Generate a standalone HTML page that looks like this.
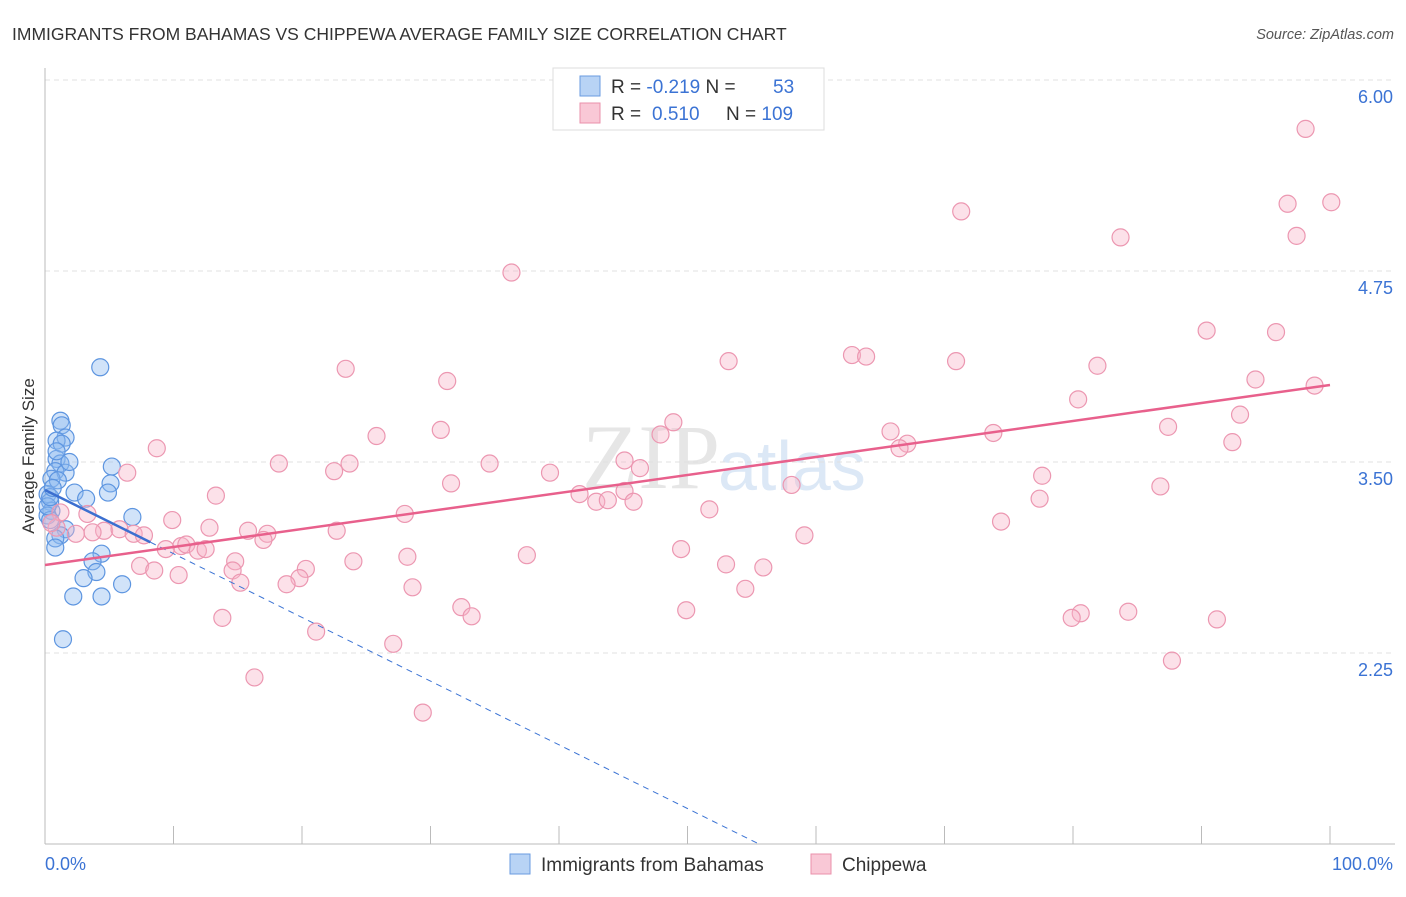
<!DOCTYPE html>
<html><head><meta charset="utf-8"><style>
body{margin:0;background:#fff;font-family:"Liberation Sans",sans-serif}
</style></head><body>
<svg width="1406" height="892" xmlns="http://www.w3.org/2000/svg" style="font-family:'Liberation Sans',sans-serif">
<text x="12" y="40" font-size="17.5" fill="#333">IMMIGRANTS FROM BAHAMAS VS CHIPPEWA AVERAGE FAMILY SIZE CORRELATION CHART</text>
<text x="1394" y="39" font-size="14.5" fill="#555" font-style="italic" text-anchor="end">Source: ZipAtlas.com</text>
<text x="720" y="488" font-size="92" font-family="Liberation Serif" fill="#e6e6e6" text-anchor="end">ZIP</text>
<text x="718" y="490" font-size="70" fill="#dce8f6">atlas</text>
<g id="grid"></g>
<g id="axes"></g>
<g id="marks"></g>
<text transform="translate(34,456) rotate(-90)" font-size="17" fill="#333" text-anchor="middle">Average Family Size</text>
<g>
<rect x="553" y="68" width="271" height="62" fill="#fff" stroke="#ddd"/>
<rect x="580" y="76" width="20" height="20" fill="#b8d3f5" stroke="#6a9be0"/>
<rect x="580" y="103" width="20" height="20" fill="#f9c8d6" stroke="#ea90ab"/>
<text x="611" y="93" font-size="19" fill="#333">R = <tspan fill="#3b73d4">-0.219</tspan>   N = <tspan fill="#3b73d4" x="773">53</tspan></text>
<text x="611" y="120" font-size="19" fill="#333">R = <tspan fill="#3b73d4" x="652">0.510</tspan>  <tspan x="726">N = </tspan><tspan fill="#3b73d4">109</tspan></text>
</g>
<g>
<rect x="510" y="854" width="20" height="20" fill="#b8d3f5" stroke="#6a9be0"/>
<text x="541" y="871" font-size="19" fill="#333">Immigrants from Bahamas</text>
<rect x="811" y="854" width="20" height="20" fill="#f9c8d6" stroke="#ea90ab"/>
<text x="842" y="871" font-size="19" fill="#333">Chippewa</text>
</g>
</svg>
<script>
const yTicks=[2.25,3.50,4.75,6.00];
const xTickLabels=["0.0%","100.0%"];
const bahamasX=[4.3,1.2,1.3,1.6,0.9,1.3,0.9,1.2,0.8,1.6,0.5,1.0,5.2,5.1,4.9,2.3,3.2,0.2,0.4,0.5,0.2,0.4,6.8,1.6,1.2,0.8,4.4,3.7,4.0,3.0,6.0,2.2,4.4,1.4,0.8,0.2,0.4,0.6,0.9,1.9];
const bahamasY=[4.12,3.77,3.74,3.66,3.64,3.62,3.52,3.49,3.44,3.43,3.39,3.38,3.47,3.36,3.30,3.30,3.26,3.29,3.24,3.18,3.15,3.12,3.14,3.06,3.02,3.00,2.90,2.85,2.78,2.74,2.70,2.62,2.62,2.34,2.94,3.21,3.27,3.33,3.57,3.50];
const chipX=[98.1,96.7,100.1,97.4,71.3,83.7,36.3,90.4,95.8,62.8,63.9,53.2,70.9,81.9,23.4,31.3,94.2,98.8,80.4,93.0,48.9,65.8,73.8,87.4,25.8,30.8,47.9,67.1,92.4,8.7,66.5,18.2,34.6,23.7,22.5,45.1,46.3,39.3,6.4,77.6,31.6,58.1,86.8,41.6,42.9,43.8,45.1,45.8,77.4,13.3,28.0,51.7,74.4,3.3,9.9,0.9,2.4,4.6,5.8,6.9,7.7,12.8,15.8,17.3,17.0,22.7,59.1,10.6,11.0,11.9,12.5,9.4,14.8,28.2,37.5,49.5,24.0,7.4,8.5,14.6,20.3,53.0,55.9,10.4,19.8,18.8,15.2,28.6,54.5,32.4,49.9,84.3,80.6,79.9,91.2,13.8,33.2,21.1,27.1,16.3,87.7,29.4,3.7,1.2,0.5];
const chipY=[5.68,5.19,5.20,4.98,5.14,4.97,4.74,4.36,4.35,4.20,4.19,4.16,4.16,4.13,4.11,4.03,4.04,4.00,3.91,3.81,3.76,3.70,3.69,3.73,3.67,3.71,3.68,3.62,3.63,3.59,3.59,3.49,3.49,3.49,3.44,3.51,3.46,3.43,3.43,3.41,3.36,3.35,3.34,3.29,3.24,3.25,3.31,3.24,3.26,3.28,3.16,3.19,3.11,3.16,3.12,3.07,3.03,3.05,3.06,3.03,3.02,3.07,3.05,3.03,2.99,3.05,3.02,2.95,2.96,2.92,2.93,2.93,2.85,2.88,2.89,2.93,2.85,2.82,2.79,2.79,2.80,2.83,2.81,2.76,2.74,2.70,2.71,2.68,2.67,2.55,2.53,2.52,2.51,2.48,2.47,2.48,2.49,2.39,2.31,2.09,2.20,1.86,3.04,3.17,3.10];
const bahamasTrend=[3.317,-0.0417,8.2];
const chipTrend=[2.826,4.004];
const X=p=>45+p*12.85, Y=v=>80+(6-v)*152.8;
const NS="http://www.w3.org/2000/svg";
function mk(parent,tag,attrs){const e=document.createElementNS(NS,tag);for(const k in attrs)e.setAttribute(k,attrs[k]);document.getElementById(parent).appendChild(e);return e;}
yTicks.forEach(v=>{
 const g=mk('grid','line',{x1:45,x2:1395,y1:Y(v),y2:Y(v),stroke:'#e0e0e0','stroke-dasharray':'5,4'});
 
 
 const t=mk('grid','text',{x:1393,y:Y(v)+23,'font-size':18,fill:'#3b73d4','text-anchor':'end'});t.textContent=v.toFixed(2);
 
 
});
let a=mk('axes','line',{x1:45,x2:45,y1:68,y2:844,stroke:'#bbb'});


a=mk('axes','line',{x1:45,x2:1395,y1:844,y2:844,stroke:'#bbb'});


for(let i=0;i<=10;i++){const t=mk('axes','line',{x1:X(i*10),x2:X(i*10),y1:826,y2:844,stroke:'#bbb'});
 
 }
[[0,'start',45],[100,'end',1393]].forEach((d,i)=>{const t=mk('axes','text',{x:d[2],y:870,'font-size':18,fill:'#3b73d4','text-anchor':d[1]});t.textContent=xTickLabels[i];
 
 });
bahamasX.forEach((x,i)=>{const c=mk('marks','circle',{cx:X(x),cy:Y(bahamasY[i]),r:8.5,fill:'rgba(140,185,240,0.4)',stroke:'#5d95e0','stroke-width':1.2});
 
 });
chipX.forEach((x,i)=>{const c=mk('marks','circle',{cx:X(x),cy:Y(chipY[i]),r:8.5,fill:'rgba(248,180,200,0.4)',stroke:'#ec97b1','stroke-width':1.2});
 
 });
const [b0,bs,be]=bahamasTrend;const xEnd=(1-b0)/bs;
let l=mk('marks','line',{x1:X(be),y1:Y(b0+bs*be),x2:X(xEnd),y2:Y(1),stroke:'#3b73d4','stroke-width':1,'stroke-dasharray':'6,5'});


l=mk('marks','line',{x1:X(0),y1:Y(b0),x2:X(be),y2:Y(b0+bs*be),stroke:'#3b6fd0','stroke-width':2.5});


l=mk('marks','line',{x1:X(0),y1:Y(chipTrend[0]),x2:X(100),y2:Y(chipTrend[1]),stroke:'#e8608c','stroke-width':2.5});


</script>
</body></html>
